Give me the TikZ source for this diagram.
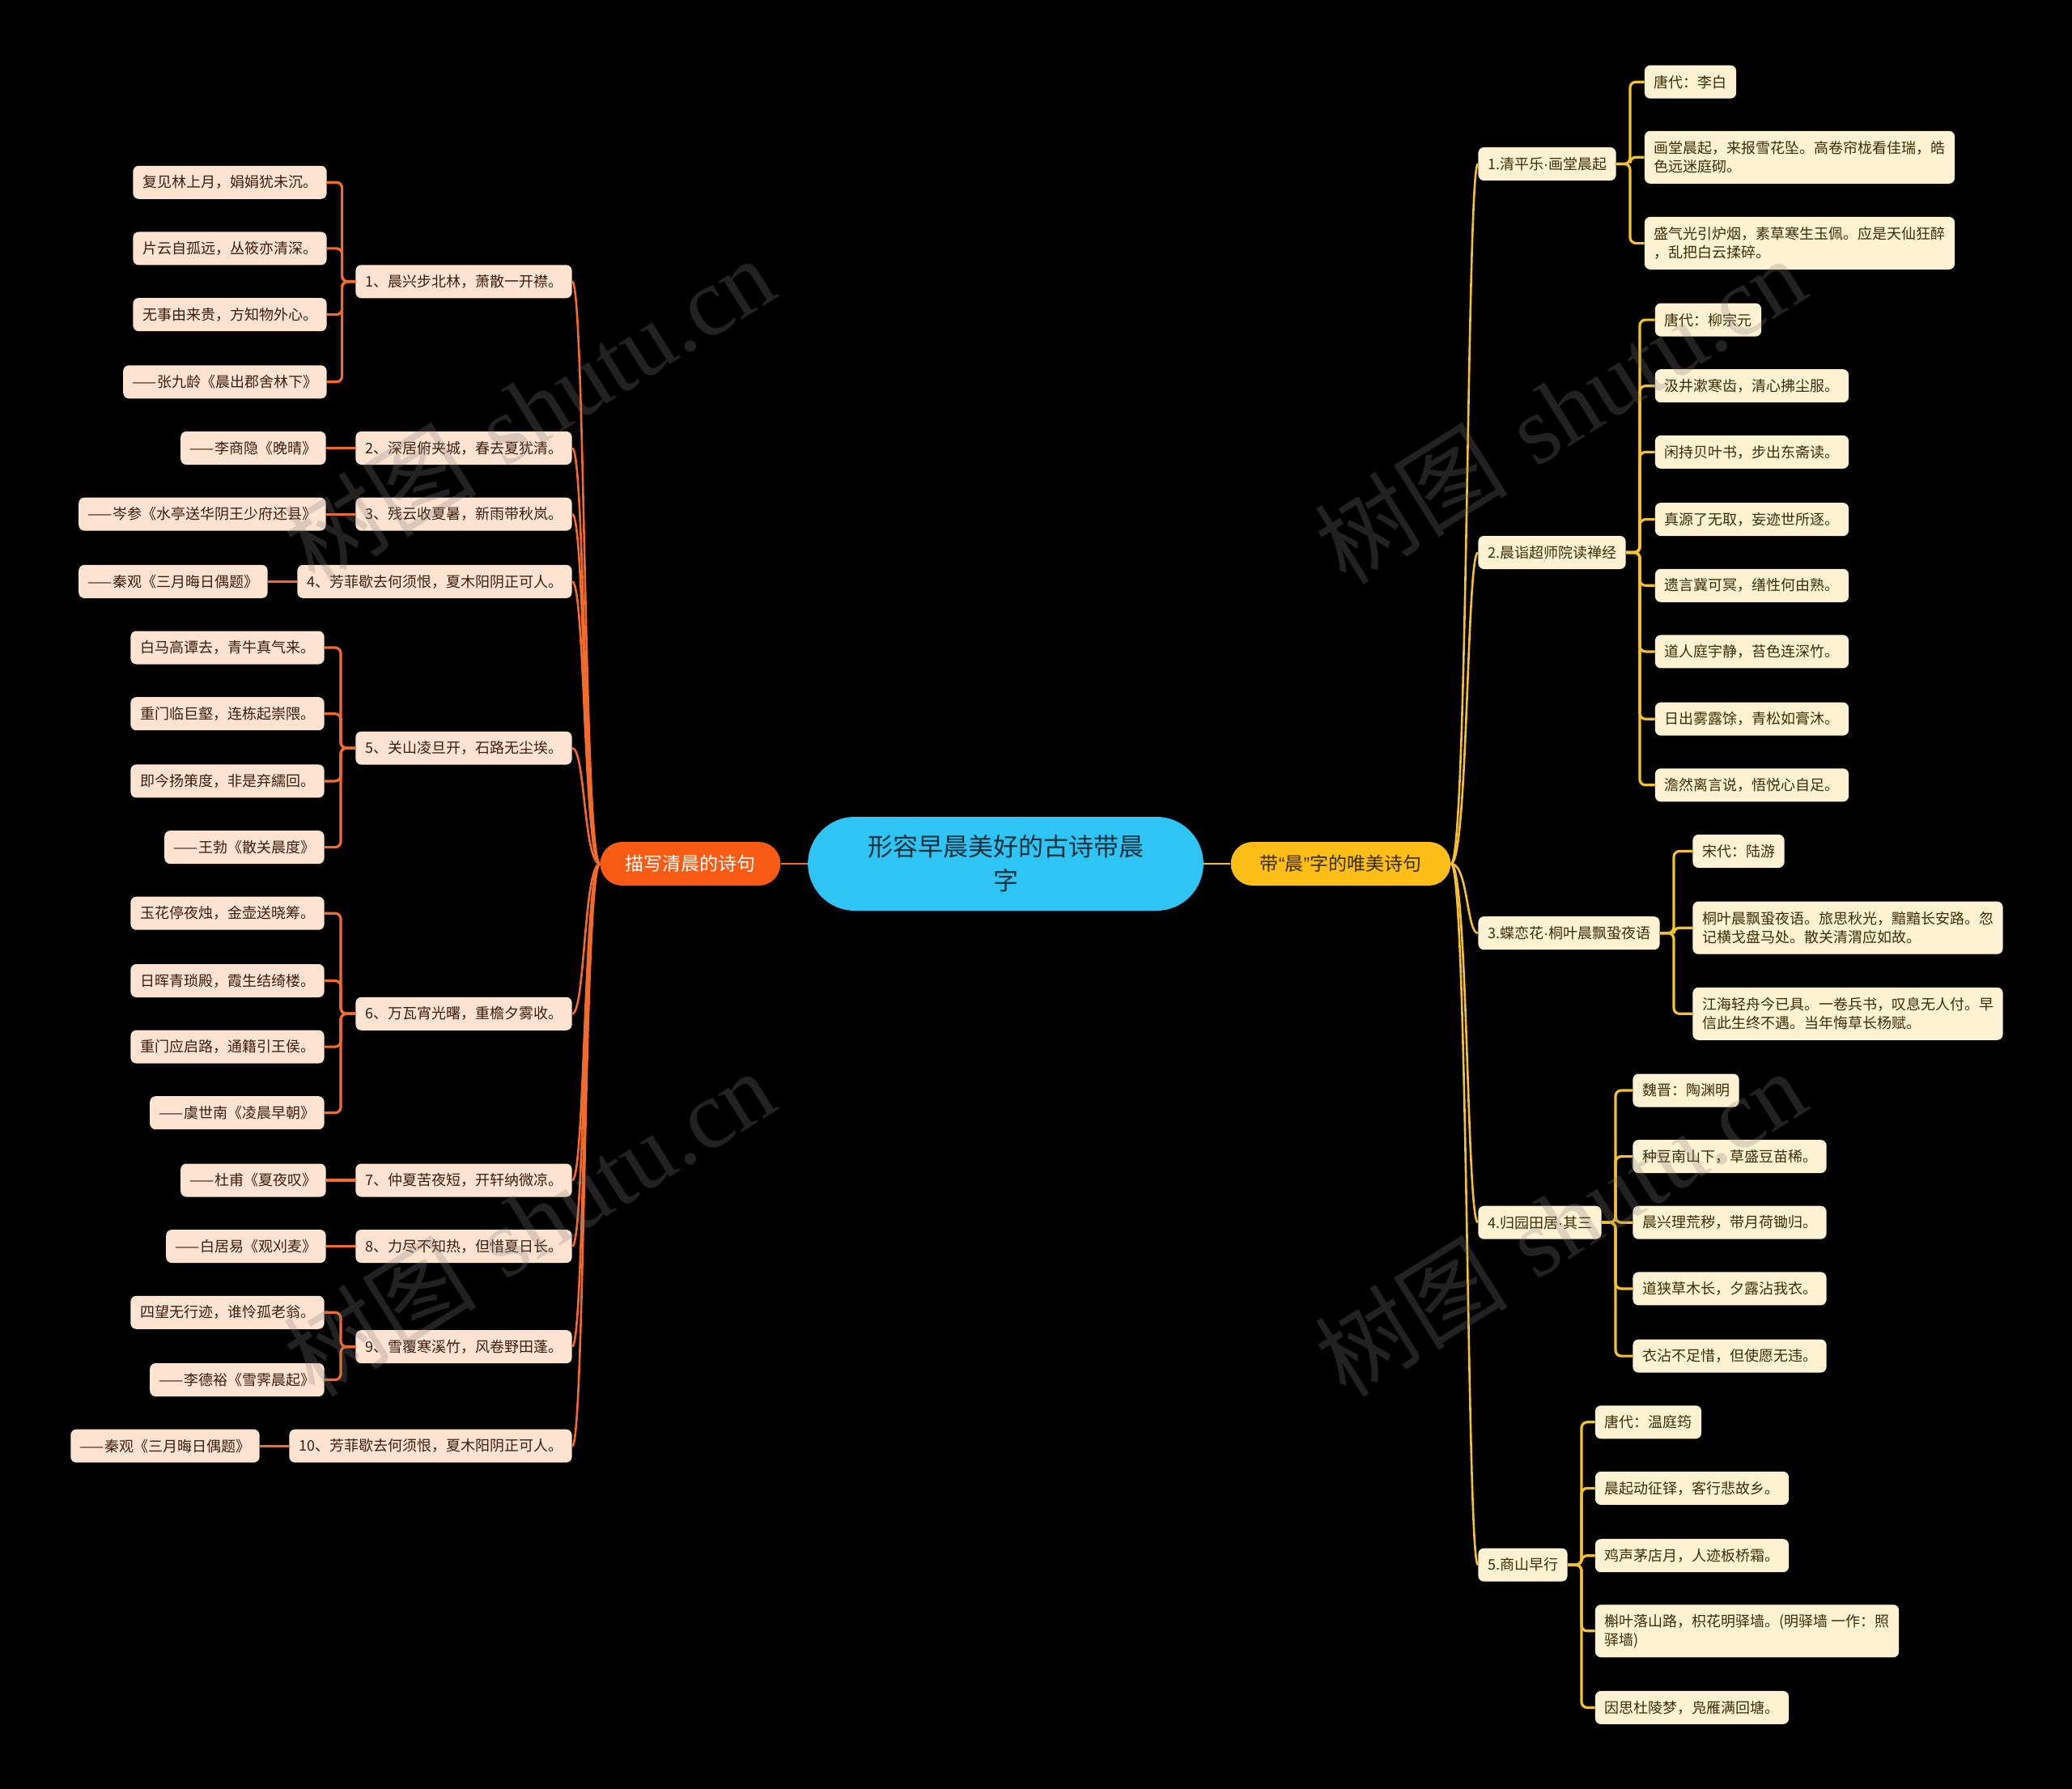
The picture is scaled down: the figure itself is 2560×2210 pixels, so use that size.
\documentclass[tikz,border=0pt]{standalone}
\usepackage{fontspec}
\newfontfamily\cjk{Noto Sans CJK SC}
\newfontfamily\wmserif{Liberation Serif}
\newfontfamily\latsans{Liberation Sans}
\newcommand{\mdot}{{\latsans ·}}
\usetikzlibrary{positioning,shapes.misc}
\definecolor{peach}{HTML}{FDE3D0}
\definecolor{cream}{HTML}{FEF2D2}
\definecolor{orangeL}{HTML}{F26B2A}
\definecolor{yellowL}{HTML}{F5C12E}
\definecolor{leftmainc}{HTML}{FA5B14}
\definecolor{rightmainc}{HTML}{FDBE17}
\definecolor{centerc}{HTML}{2EC5F4}
\definecolor{txtL}{HTML}{3B1E0E}
\definecolor{txtR}{HTML}{3A2E05}
\definecolor{txtC}{HTML}{17303C}
\tikzset{
  basebox/.style={font=\cjk\fontsize{9}{11.5}\selectfont, inner xsep=5.8pt, inner ysep=3pt,
    minimum height=20.5pt, rounded corners=3.5pt, align=left},
  lbox/.style={basebox, fill=peach, text=txtL, anchor=east},
  rbox/.style={basebox, fill=cream, text=txtR, anchor=west},
  rboxtwo/.style={rbox, minimum height=32.5pt},
  mainline/.style={line width=1.3pt},
  lmain/.style={mainline, draw=orangeL},
  rmain/.style={mainline, draw=yellowL},
  lleaf/.style={draw=orangeL, line width=1.6pt, rounded corners=3.5pt},
  rleaf/.style={draw=yellowL, line width=1.6pt, rounded corners=3.5pt},
  wmark/.style={rotate=32, text=gray, opacity=0.27, font=\fontsize{60}{60}\selectfont}
}
\begin{document}
\begin{tikzpicture}[x=0.5pt,y=-0.5pt]
\fill[black] (0,0) rectangle (2560,2210);

% center and main branches
\node[rounded rectangle, fill=centerc, text=txtC, minimum width=251pt, minimum height=58pt,
  font=\cjk\fontsize{15.5}{21}\selectfont, align=center] (C) at (1242.5,1067) {形容早晨美好的古诗带晨\\字};
\node[rounded rectangle, fill=leftmainc, text=white, minimum width=118pt, minimum height=27pt,
  font=\cjk\fontsize{11.5}{14}\selectfont] (LM) at (853,1067) {描写清晨的诗句};
\node[rounded rectangle, fill=rightmainc, text=txtR, minimum width=142.5pt, minimum height=27pt,
  font=\cjk\fontsize{11.5}{14}\selectfont] (RM) at (1656.5,1067) {带{\latsans “}晨{\latsans ”}字的唯美诗句};

% left level 1
\node[lbox] (L1) at (707,347.8) {1、晨兴步北林，萧散一开襟。};
\node[lbox] (L2) at (707,553.5) {2、深居俯夹城，春去夏犹清。};
\node[lbox] (L3) at (707,635.1) {3、残云收夏暑，新雨带秋岚。};
\node[lbox] (L4) at (707,718.4) {4、芳菲歇去何须恨，夏木阳阴正可人。};
\node[lbox] (L5) at (707,924.1) {5、关山凌旦开，石路无尘埃。};
\node[lbox] (L6) at (707,1252.3) {6、万瓦宵光曙，重檐夕雾收。};
\node[lbox] (L7) at (707,1458.0) {7、仲夏苦夜短，开轩纳微凉。};
\node[lbox] (L8) at (707,1539.6) {8、力尽不知热，但惜夏日长。};
\node[lbox] (L9) at (707,1663.7) {9、雪覆寒溪竹，风卷野田蓬。};
\node[lbox] (L10) at (707,1786.2) {10、芳菲歇去何须恨，夏木阳阴正可人。};

% left leaves
\node[lbox] (L1a) at (404,225.3) {复见林上月，娟娟犹未沉。};
\node[lbox] (L1b) at (404,306.9) {片云自孤远，丛筱亦清深。};
\node[lbox] (L1c) at (404,388.6) {无事由来贵，方知物外心。};
\node[lbox] (L1d) at (404,471.8) {——张九龄《晨出郡舍林下》};
\node[lbox, left=18pt of L2] (L2a) {——李商隐《晚晴》};
\node[lbox, left=18pt of L3] (L3a) {——岑参《水亭送华阴王少府还县》};
\node[lbox, left=18pt of L4] (L4a) {——秦观《三月晦日偶题》};
\node[lbox] (L5a) at (401,800.0) {白马高谭去，青牛真气来。};
\node[lbox] (L5b) at (401,881.7) {重门临巨壑，连栋起崇隈。};
\node[lbox] (L5c) at (401,964.9) {即今扬策度，非是弃繻回。};
\node[lbox] (L5d) at (401,1046.6) {——王勃《散关晨度》};
\node[lbox] (L6a) at (401,1128.2) {玉花停夜烛，金壶送晓筹。};
\node[lbox] (L6b) at (401,1211.5) {日晖青琐殿，霞生结绮楼。};
\node[lbox] (L6c) at (401,1293.1) {重门应启路，通籍引王侯。};
\node[lbox] (L6d) at (401,1374.7) {——虞世南《凌晨早朝》};
\node[lbox, left=18pt of L7] (L7a) {——杜甫《夏夜叹》};
\node[lbox, left=18pt of L8] (L8a) {——白居易《观刈麦》};
\node[lbox] (L9a) at (401,1621.3) {四望无行迹，谁怜孤老翁。};
\node[lbox] (L9b) at (401,1704.5) {——李德裕《雪霁晨起》};
\node[lbox, left=18pt of L10] (L10a) {——秦观《三月晦日偶题》};

% right level 1
\node[rbox] (R1) at (1826,202.5) {1.清平乐\mdot 画堂晨起};
\node[rbox] (R2) at (1826,682.5) {2.晨诣超师院读禅经};
\node[rbox] (R3) at (1826,1152.7) {3.蝶恋花\mdot 桐叶晨飘蛩夜语};
\node[rbox] (R4) at (1826,1510.2) {4.归园田居\mdot 其三};
\node[rbox] (R5) at (1826,1933.1) {5.商山早行};

% right leaves
\node[rbox] (R1a) at (2031.5,101.2) {唐代：李白};
\node[rboxtwo] (R1b) at (2031.5,194.3) {画堂晨起，来报雪花坠。高卷帘栊看佳瑞，皓\\色远迷庭砌。};
\node[rboxtwo] (R1c) at (2031.5,300.4) {盛气光引炉烟，素草寒生玉佩。应是天仙狂醉\\，乱把白云揉碎。};
\node[rbox] (R2a) at (2044.5,395.1) {唐代：柳宗元};
\node[rbox] (R2b) at (2044.5,476.7) {汲井漱寒齿，清心拂尘服。};
\node[rbox] (R2c) at (2044.5,558.4) {闲持贝叶书，步出东斋读。};
\node[rbox] (R2d) at (2044.5,641.6) {真源了无取，妄迹世所逐。};
\node[rbox] (R2e) at (2044.5,723.3) {遗言冀可冥，缮性何由熟。};
\node[rbox] (R2f) at (2044.5,804.9) {道人庭宇静，苔色连深竹。};
\node[rbox] (R2g) at (2044.5,888.2) {日出雾露馀，青松如膏沐。};
\node[rbox] (R2h) at (2044.5,969.8) {澹然离言说，悟悦心自足。};
\node[rbox] (R3a) at (2091,1051.5) {宋代：陆游};
\node[rboxtwo] (R3b) at (2091,1146.2) {桐叶晨飘蛩夜语。旅思秋光，黯黯长安路。忽\\记横戈盘马处。散关清渭应如故。};
\node[rboxtwo] (R3c) at (2091,1252.3) {江海轻舟今已具。一卷兵书，叹息无人付。早\\信此生终不遇。当年悔草长杨赋。};
\node[rbox] (R4a) at (2017,1347) {魏晋：陶渊明};
\node[rbox] (R4b) at (2017,1428.6) {种豆南山下，草盛豆苗稀。};
\node[rbox] (R4c) at (2017,1510.2) {晨兴理荒秽，带月荷锄归。};
\node[rbox] (R4d) at (2017,1591.9) {道狭草木长，夕露沾我衣。};
\node[rbox] (R4e) at (2017,1675.1) {衣沾不足惜，但使愿无违。};
\node[rbox] (R5a) at (1970.5,1756.8) {唐代：温庭筠};
\node[rbox] (R5b) at (1970.5,1838.4) {晨起动征铎，客行悲故乡。};
\node[rbox] (R5c) at (1970.5,1921.7) {鸡声茅店月，人迹板桥霜。};
\node[rboxtwo] (R5d) at (1970.5,2014.8) {槲叶落山路，枳花明驿墙。(明驿墙 一作：照\\驿墙)};
\node[rbox] (R5e) at (1970.5,2109.4) {因思杜陵梦，凫雁满回塘。};

% connectors: center to main
\draw[lmain] (C.west) -- (LM.east);
\draw[rmain] (C.east) -- (RM.west);

% main to level 1
\foreach \n in {L1,L2,L3,L4,L5,L6,L7,L8,L9,L10}
  \draw[lmain] (LM.west) .. controls +(-20,0) and +(16,0) .. (\n.east);
\foreach \n in {R1,R2,R3,R4,R5}
  \draw[rmain] (RM.east) .. controls +(21,0) and +(-14,0) .. (\n.west);

% left level 1 to leaves
\foreach \c in {L1a,L1b,L1c,L1d} \draw[lleaf] (L1.west) -- ++(-16.4,0) |- (\c.east);
\foreach \c in {L5a,L5b,L5c,L5d} \draw[lleaf] (L5.west) -- ++(-18,0) |- (\c.east);
\foreach \c in {L6a,L6b,L6c,L6d} \draw[lleaf] (L6.west) -- ++(-18,0) |- (\c.east);
\foreach \c in {L9a,L9b} \draw[lleaf] (L9.west) -- ++(-18,0) |- (\c.east);
\draw[lleaf] (L2.west) -- (L2a.east);
\draw[lleaf] (L3.west) -- (L3a.east);
\draw[lleaf] (L4.west) -- (L4a.east);
\draw[lleaf] (L7.west) -- (L7a.east);
\draw[lleaf] (L8.west) -- (L8a.east);
\draw[lleaf] (L10.west) -- (L10a.east);

% right level 1 to leaves
\foreach \c in {R1a,R1b,R1c} \draw[rleaf] (R1.east) -- ++(17,0) |- (\c.west);
\foreach \c in {R2a,R2b,R2c,R2d,R2e,R2f,R2g,R2h} \draw[rleaf] (R2.east) -- ++(17,0) |- (\c.west);
\foreach \c in {R3a,R3b,R3c} \draw[rleaf] (R3.east) -- ++(17,0) |- (\c.west);
\foreach \c in {R4a,R4b,R4c,R4d,R4e} \draw[rleaf] (R4.east) -- ++(17,0) |- (\c.west);
\foreach \c in {R5a,R5b,R5c,R5d,R5e} \draw[rleaf] (R5.east) -- ++(17,0) |- (\c.west);

% watermarks
\node[wmark] (W1) at (653,506) {{\cjk 树图} {\wmserif shutu.cn}};
\node[wmark] (W2) at (1927,506) {{\cjk 树图} {\wmserif shutu.cn}};
\node[wmark] (W3) at (653,1510) {{\cjk 树图} {\wmserif shutu.cn}};
\node[wmark] (W4) at (1927,1510) {{\cjk 树图} {\wmserif shutu.cn}};
\end{tikzpicture}
\end{document}
